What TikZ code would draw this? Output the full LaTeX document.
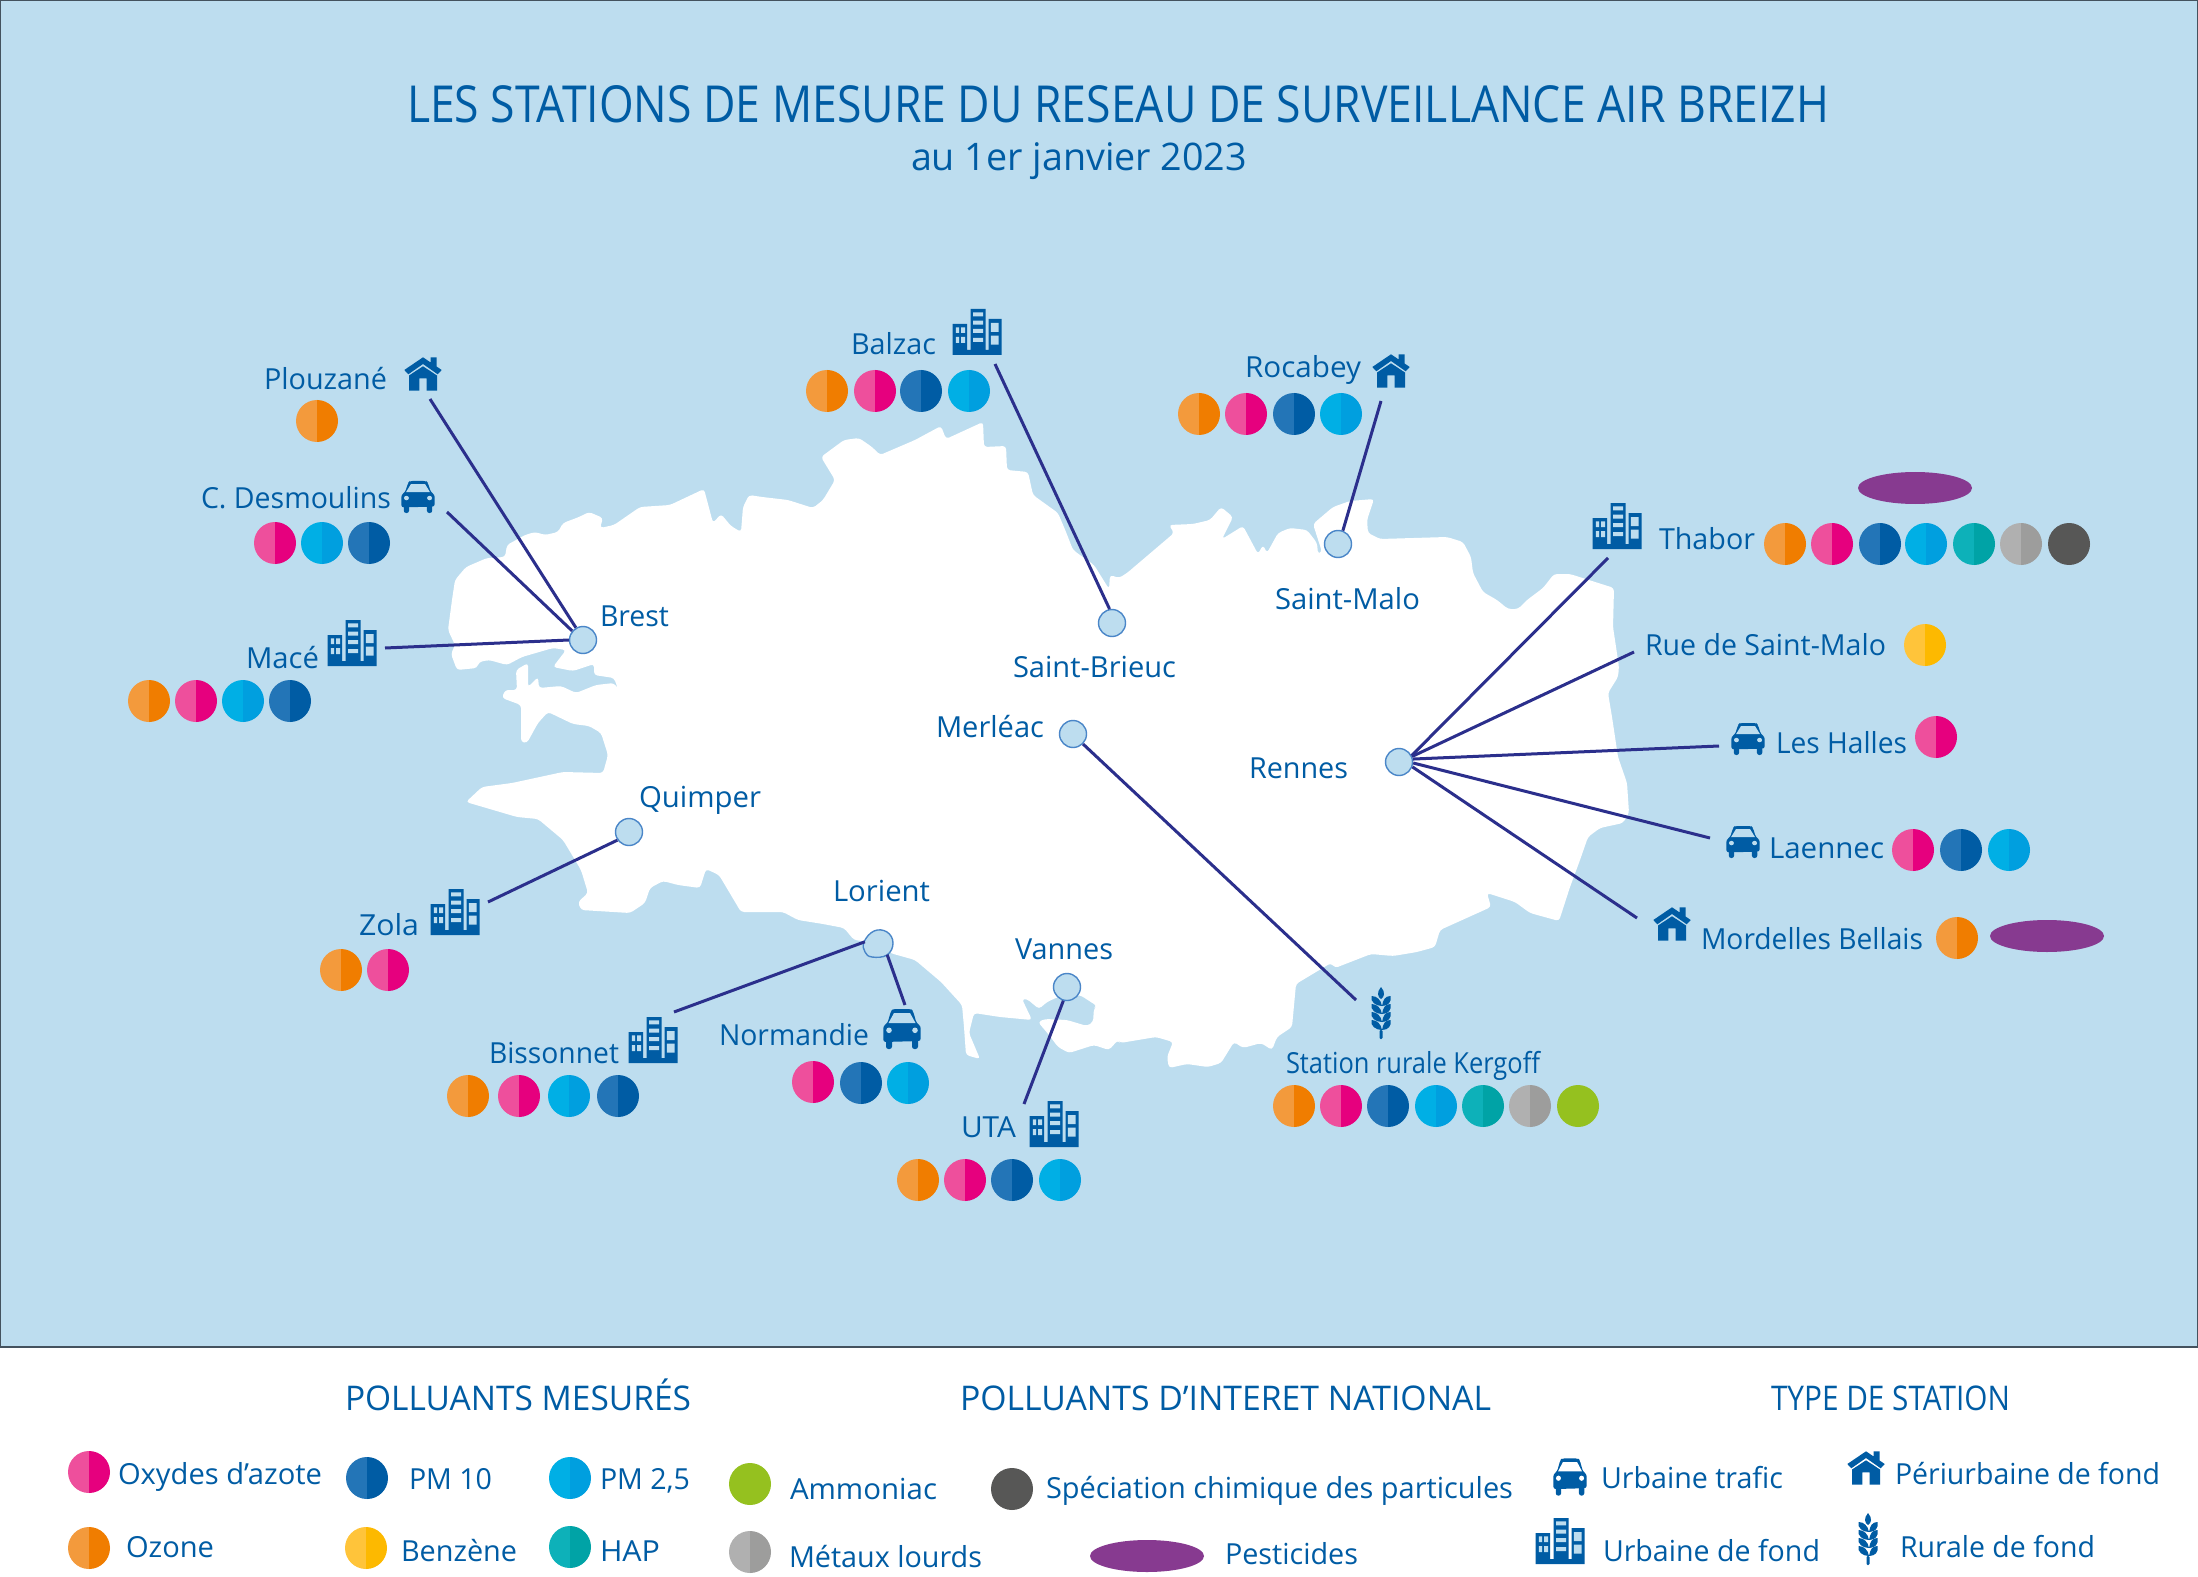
\documentclass[tikz,border=0pt]{standalone}
\usepackage{graphicx}
\usepackage{fontspec}
\setmainfont{Open Sans}
\definecolor{sea}{HTML}{BDDDEF}
\definecolor{ink}{HTML}{005CA4}
\definecolor{wire}{HTML}{2B2F8C}
\definecolor{ringc}{HTML}{4A86C8}
\definecolor{frame}{HTML}{44525E}
\definecolor{oA}{HTML}{F39A3C}\definecolor{oB}{HTML}{F07D00}
\definecolor{nA}{HTML}{EE4F9C}\definecolor{nB}{HTML}{E6007E}
\definecolor{dA}{HTML}{2375B7}\definecolor{dB}{HTML}{005CA4}
\definecolor{lA}{HTML}{00AFE5}\definecolor{lB}{HTML}{009FDF}
\definecolor{tA}{HTML}{0DB1B9}\definecolor{tB}{HTML}{00A3A6}
\definecolor{gA}{HTML}{B0B0B0}\definecolor{gB}{HTML}{9D9D9C}
\definecolor{yA}{HTML}{FFC43A}\definecolor{yB}{HTML}{FDB900}
\definecolor{vert}{HTML}{95C11F}
\definecolor{anth}{HTML}{575756}
\definecolor{viol}{HTML}{873A90}
\newlength{\fitlen}
\newcommand{\fitw}[2]{\settowidth{\fitlen}{#2}\pgfmathsetmacro{\fitr}{#1*0.5/\fitlen}\scalebox{\fitr}[1]{#2}}
% name, left x, right x, baseline y, text
\newcommand{\lab}[5]{\node[txt,anchor=base west,xshift=-0.5pt] (#1) at (#2,#4) {\fitw{(#3-#2+2)}{#5}};}
\newcommand{\hdg}[5]{\node[txt,font=\fontsize{17}{19}\selectfont,anchor=base west,xshift=-1pt] (#1) at (#2,#4) {\fitw{(#3-#2+4)}{#5}};}
\tikzset{
 x=0.5pt,y=-0.5pt,
 txt/.style={inner sep=0pt,outer sep=0pt,text=ink,font=\fontsize{14.5}{16}\selectfont},
 stn/.style={circle,draw=ringc,line width=0.7pt,fill=sea,minimum size=13.5pt,inner sep=0pt},
 lnk/.style={draw=wire,line width=1.5pt},
 pics/duo/.style 2 args={code={
   \fill[#1] (0,21) arc[start angle=90,end angle=270,radius=21] -- cycle;
   \fill[#2] (0,-21) arc[start angle=-90,end angle=90,radius=21] -- cycle;}},
 pics/ozo/.style={code={\pic {duo={oA}{oB}};}},
 pics/nox/.style={code={\pic {duo={nA}{nB}};}},
 pics/pmd/.style={code={\pic {duo={dA}{dB}};}},
 pics/pml/.style={code={\pic {duo={lA}{lB}};}},
 pics/hap/.style={code={\pic {duo={tA}{tB}};}},
 pics/met/.style={code={\pic {duo={gA}{gB}};}},
 pics/ben/.style={code={\pic {duo={yA}{yB}};}},
 pics/nh/.style={code={\fill[vert] (0,0) circle[radius=21];}},
 pics/spc/.style={code={\fill[anth] (0,0) circle[radius=21];}},
 pics/pest/.style={code={\fill[viol] (0,0) ellipse[x radius=57,y radius=16];}},
 pics/bld/.style={code={
   \fill[ink] (-24.5,-8) rectangle (-10,23) (-6.5,-23) rectangle (8.5,23) (11.5,-13) rectangle (24.5,23) (-24.5,18) rectangle (24.5,23);
   \fill[#1] (-21.2,-4.7) rectangle (-17.8,1) (-15.8,-4.7) rectangle (-11.8,1) (-21.2,5) rectangle (-17.8,11) (-15.8,5) rectangle (-11.8,11)
     (-3.8,-19.7) rectangle (6.2,-15.7) (-3.8,-11.3) rectangle (6.2,-7.3) (-3.8,-3) rectangle (6.2,1) (-3.8,6) rectangle (6.2,10)
     (13.8,-9) rectangle (21.5,0) (13.8,3.7) rectangle (21.5,12.7);}},
 pics/car/.style={code={
   \fill[ink,rounded corners=1.2pt] (-18.7,13) -- (-18.7,-3) -- (-14.5,-6) -- (-11,-18) -- (-9,-20) -- (9,-20) -- (11,-18) -- (14.5,-6) -- (18.7,-3) -- (18.7,12) -- cycle;
   \fill[ink,rounded corners=1.2pt] (-16,10) rectangle (-10,20) (10,10) rectangle (16,20);
   \fill[#1] (-13.5,-6) -- (-8,-16) -- (8,-16) -- (13.5,-6) -- cycle;
   \fill[#1] (-13,1.3) circle[radius=2.8] (13,1.3) circle[radius=2.8];}},
 pics/hse/.style={code={
   \fill[ink] (-18.7,-4) -- (0,-16.7) -- (7.7,-11.5) -- (7.7,-16.7) -- (13.7,-16.7) -- (13.7,-7.4) -- (18.7,-4) -- (14.7,0.3) -- (0,-10) -- (-14.7,0.3) -- cycle;
   \fill[ink] (-14,1.5) -- (0,-7.7) -- (14,1.5) -- (14,16.7) -- (3.7,16.7) -- (3.7,4.3) -- (-3.7,4.3) -- (-3.7,16.7) -- (-14,16.7) -- cycle;}},
 pics/whe/.style={code={
   \fill[ink] (0,-26) .. controls (-4.5,-21) and (-3.5,-16) .. (0,-14) .. controls (3.5,-16) and (4.5,-21) .. (0,-26) -- cycle;
   \foreach \yy in {-12,-4,4,12}{
     \fill[ink] (1,\yy+5) .. controls (-5,\yy+5) and (-11,\yy+1) .. (-9.5,\yy-5) .. controls (-4,\yy-5) and (0,\yy-1) .. (1,\yy+5) -- cycle;
     \fill[ink] (1,\yy+5) .. controls (7,\yy+5) and (11,\yy+1) .. (9.5,\yy-5) .. controls (4,\yy-5) and (2,\yy-1) .. (1,\yy+5) -- cycle;}
   \fill[ink,rounded corners=0.6pt] (-1.5,17) rectangle (1.5,26);}},
}
\begin{document}
\begin{tikzpicture}
\useasboundingbox (0,0) rectangle (2198,1577);
\fill[white] (0,0) rectangle (2198,1577);
\fill[sea] (0,0) rectangle (2198,1347);
\draw[frame,line width=0.6pt] (0.5,0.5) rectangle (2197.5,1347);
% land
\fill[white,rounded corners=1.6pt] (448,630) -- (452,600) -- (455,580) -- (466,567) -- (487,558) -- (505,557) -- (507,545) -- (525,535) -- (535,532) -- (545,535) -- (558,532) -- (563,523) -- (579,517) -- (589,512) -- (603,518) -- (600,528) -- (614,525) -- (640,507) -- (670,505) -- (704,489) -- (713,523) -- (721,514) -- (731,526) -- (741,532) -- (743,507) -- (749,495) -- (762,497) -- (788,500) -- (813,508) -- (823,500) -- (835,480) -- (821,457) -- (844,440) -- (859,438) -- (872,447) -- (880,455) -- (915,440) -- (941,426) -- (946,439) -- (983,422) -- (984,447) -- (1006,446) -- (1007,470) -- (1028,472) -- (1033,495) -- (1058,513) -- (1066,532) -- (1073,550) -- (1094,565) -- (1109,589) -- (1110,575) -- (1119,578) -- (1127,573) -- (1174,533) -- (1169,525) -- (1193,524) -- (1210,520) -- (1221,507) -- (1233,517) -- (1222,539) -- (1243,526) -- (1258,554) -- (1263,545) -- (1267,553) -- (1278,533) -- (1290,528) -- (1307,530) -- (1317,543) -- (1318,554) -- (1322,552) -- (1313,524) -- (1333,507) -- (1350,501) -- (1374,499) -- (1367,520) -- (1368,533) -- (1380,539) -- (1447,537) -- (1463,542) -- (1471,557) -- (1473,573) -- (1483,592) -- (1497,600) -- (1508,609) -- (1518,609) -- (1527,600) -- (1543,588) -- (1554,574) -- (1570,574) -- (1614,588) -- (1613,627) -- (1619,667) -- (1618,677) -- (1608,693) -- (1612,717) -- (1618,757) -- (1627,783) -- (1629,813) -- (1623,823) -- (1600,828) -- (1588,837) -- (1580,860) -- (1570,887) -- (1559,921) -- (1530,913) -- (1515,902) -- (1487,893) -- (1491,907) -- (1440,930) -- (1435,947) -- (1417,952) -- (1393,956) -- (1371,954) -- (1335,968) -- (1331,963) -- (1296,984) -- (1292,1027) -- (1277,1037) -- (1272,1050) -- (1261,1043) -- (1243,1048) -- (1234,1042) -- (1221,1063) -- (1208,1067) -- (1187,1064) -- (1169,1068) -- (1167,1057) -- (1173,1042) -- (1156,1037) -- (1120,1043) -- (1118,1040) -- (1109,1050) -- (1094,1045) -- (1069,1053) -- (1058,1047) -- (1049,1035) -- (1038,1022) -- (1045,1019) -- (1067,1020) -- (1087,1026) -- (1093,1022) -- (1094,1008) -- (1097,1006) -- (1080,995) -- (1058,997) -- (1047,1002) -- (1039,1009) -- (1027,999) -- (1022,999) -- (1032,1020) -- (1000,1017) -- (974,1013) -- (969,1033) -- (980,1059) -- (966,1055) -- (964,1027) -- (962,1005) -- (941,982) -- (915,960) -- (890,953) -- (880,943) -- (854,940) -- (844,928) -- (823,924) -- (798,920) -- (783,912) -- (741,912) -- (719,875) -- (706,869) -- (700,888) -- (678,885) -- (663,881) -- (650,888) -- (645,903) -- (630,913) -- (581,910) -- (578,902) -- (588,893) -- (581,870) -- (563,840) -- (538,819) -- (517,817) -- (466,802) -- (482,787) -- (512,783) -- (563,772) -- (603,773) -- (608,755) -- (601,733) -- (589,726) -- (573,724) -- (548,712) -- (538,723) -- (527,743) -- (521,742) -- (521,705) -- (502,698) -- (505,690) -- (517,690) -- (516,670) -- (528,663) -- (528,687) -- (538,677) -- (539,688) -- (561,686) -- (576,693) -- (596,685) -- (614,683) -- (618,689) -- (614,678) -- (594,675) -- (594,664) -- (573,671) -- (553,667) -- (566,650) -- (553,648) -- (522,657) -- (507,665) -- (489,660) -- (479,662) -- (477,668) -- (457,670) -- (451,654) -- (455,645) -- cycle;
% stations
\node[stn] (brest) at (583,640) {};
\node[stn] (stbrieuc) at (1112,623) {};
\node[stn] (merleac) at (1073,734) {};
\node[stn] (quimper) at (629,832) {};
\node[stn] (rennes) at (1399,762) {};
\node[stn] (stmalo) at (1338,544) {};
\node[stn,draw=none,fill=none] (lorient) at (879,943) {};
\node[stn] (vannes) at (1067,987) {};
\draw[ringc,line width=0.7pt,fill=sea] plot[smooth cycle,tension=0.7] coordinates {(864,942) (874,931) (887,932) (893,943) (887,955) (872,957) (865,952)};
% free ends
\coordinate (e1) at (430,399);
\coordinate (e2) at (447,512);
\coordinate (e3) at (385,648);
\coordinate (e4) at (995,364);
\coordinate (e5) at (1381,401);
\coordinate (e6) at (1608,558);
\coordinate (e7) at (1634,652);
\coordinate (e8) at (1719,746);
\coordinate (e9) at (1710,838);
\coordinate (e10) at (1637,918);
\coordinate (e11) at (1356,1000);
\coordinate (e12) at (488,902);
\coordinate (e13) at (674,1012);
\coordinate (e14) at (905,1005);
\coordinate (e15) at (1024,1104);
% connectors
\draw[lnk] (brest.120) -- (e1);
\draw[lnk] (brest.140) -- (e2);
\draw[lnk] (brest.180) -- (e3);
\draw[lnk] (stbrieuc.100) -- (e4);
\draw[lnk] (stmalo.70) -- (e5);
\draw[lnk] (rennes.27) -- (e6);
\draw[lnk] (rennes.23) -- (e7);
\draw[lnk] (rennes.12) -- (e8);
\draw[lnk] (rennes.-4) -- (e9);
\draw[lnk] (rennes.-20) -- (e10);
\draw[lnk] (merleac.-45) -- (e11);
\draw[lnk] (quimper.215) -- (e12);
\draw[lnk] (lorient.175) -- (e13);
\draw[lnk] (lorient.-55) -- (e14);
\draw[lnk] (vannes.-105) -- (e15);
% icons
\pic at (423,374) {hse};
\pic[xscale=.89,yscale=.8] at (418,497) {car=sea};
\pic at (352,643) {bld=sea};
\pic at (977,332) {bld=sea};
\pic at (1391,371) {hse};
\pic at (1617,526) {bld=sea};
\pic[xscale=.89,yscale=.8] at (1748,739) {car=sea};
\pic[xscale=.89,yscale=.8] at (1743,842) {car=sea};
\pic at (1672,924) {hse};
\pic at (1381,1013) {whe};
\pic at (455,912) {bld=sea};
\pic at (653,1040) {bld=sea};
\pic at (902,1029) {car=sea};
\pic at (1054,1124) {bld=sea};
% dots
\pic at (317,421) {ozo};
\pic at (275,543) {nox}; \pic at (322,543) {pml}; \pic at (369,543) {pmd};
\pic at (149,701) {ozo}; \pic at (196,701) {nox}; \pic at (243,701) {pml}; \pic at (290,701) {pmd};
\pic at (827,391) {ozo}; \pic at (875,391) {nox}; \pic at (921,391) {pmd}; \pic at (969,391) {pml};
\pic at (1199,414) {ozo}; \pic at (1246,414) {nox}; \pic at (1294,414) {pmd}; \pic at (1341,414) {pml};
\pic at (1785,544) {ozo}; \pic at (1832,544) {nox}; \pic at (1880,544) {pmd}; \pic at (1926,544) {pml}; \pic at (1974,544) {hap}; \pic at (2021,544) {met}; \pic at (2069,544) {spc};
\pic at (1915,488) {pest};
\pic at (1925,645) {ben};
\pic at (1936,737) {nox};
\pic at (1913,850) {nox}; \pic at (1961,850) {pmd}; \pic at (2009,850) {pml};
\pic at (1957,938) {ozo}; \pic at (2047,936) {pest};
\pic at (341,970) {ozo}; \pic at (388,970) {nox};
\pic at (468,1096) {ozo}; \pic at (519,1096) {nox}; \pic at (569,1096) {pml}; \pic at (618,1096) {pmd};
\pic at (813,1082) {nox}; \pic at (861,1083) {pmd}; \pic at (908,1083) {pml};
\pic at (918,1180) {ozo}; \pic at (965,1180) {nox}; \pic at (1012,1180) {pmd}; \pic at (1060,1180) {pml};
\pic at (1294,1106) {ozo}; \pic at (1341,1106) {nox}; \pic at (1388,1106) {pmd}; \pic at (1436,1106) {pml}; \pic at (1483,1106) {hap}; \pic at (1530,1106) {met}; \pic at (1578,1106) {nh};
% labels
\node[txt,font=\fontsize{25.5}{28}\selectfont,anchor=base west] (title) at (407,123) {\fitw{1422}{LES STATIONS DE MESURE DU RESEAU DE SURVEILLANCE AIR BREIZH}};
\node[txt,font=\fontsize{19}{21}\selectfont,anchor=base west] (sub) at (911,171) {\fitw{336}{au 1er janvier 2023}};
\lab{lPlou}{265}{386}{390}{Plouzané}
\lab{lDesm}{202}{390}{509}{C. Desmoulins}
\lab{lMace}{247}{318}{668}{Macé}
\lab{lBrest}{601}{668}{626}{Brest}
\lab{lBalz}{852}{935}{355}{Balzac}
\lab{lRoca}{1246}{1360}{378}{Rocabey}
\lab{lMalo}{1276}{1419}{609}{Saint-Malo}
\lab{lBrieuc}{1014}{1175}{677}{Saint-Brieuc}
\lab{lMerl}{937}{1043}{737}{Merléac}
\lab{lRenn}{1250}{1347}{778}{Rennes}
\lab{lQuim}{640}{760}{807}{Quimper}
\lab{lZola}{360}{418}{935}{Zola}
\lab{lLor}{834}{929}{901}{Lorient}
\lab{lVan}{1016}{1112}{959}{Vannes}
\lab{lNorm}{720}{868}{1045}{Normandie}
\lab{lBiss}{490}{618}{1063}{Bissonnet}
\lab{lUTA}{962}{1015}{1137}{UTA}
\lab{lKerg}{1287}{1539}{1073}{Station rurale Kergoff}
\lab{lThab}{1660}{1754}{549}{Thabor}
\lab{lRue}{1646}{1885}{655}{Rue de Saint-Malo}
\lab{lHall}{1777}{1906}{753}{Les Halles}
\lab{lLaen}{1770}{1883}{858}{Laennec}
\lab{lMord}{1702}{1922}{949}{Mordelles Bellais}
% legend
\hdg{h1}{347}{689}{1410}{POLLUANTS MESURÉS}
\hdg{h2}{962}{1489}{1410}{POLLUANTS D’INTERET NATIONAL}
\hdg{h3}{1773}{2008}{1410}{TYPE DE STATION}
\pic[yscale=.89] at (89,1472) {nox}; \lab{t1}{119}{321}{1484}{Oxydes d’azote}
\pic at (89,1548) {ozo}; \lab{t2}{127}{213}{1557}{Ozone}
\pic at (367,1478) {pmd}; \lab{t3}{410}{491}{1489}{PM 10}
\pic at (570,1478) {pml}; \lab{t4}{601}{689}{1489}{PM 2,5}
\pic at (366,1548) {ben}; \lab{t5}{402}{516}{1561}{Benzène}
\pic at (570,1547) {hap}; \lab{t6}{601}{659}{1561}{HAP}
\pic at (750,1484) {nh}; \lab{t7}{791}{936}{1499}{Ammoniac}
\pic at (750,1552) {met}; \lab{t8}{790}{981}{1567}{Métaux lourds}
\pic at (1012,1489) {spc}; \lab{t9}{1047}{1512}{1498}{Spéciation chimique des particules}
\pic at (1147,1556) {pest}; \lab{t10}{1226}{1357}{1564}{Pesticides}
\pic[xscale=.89,yscale=.93] at (1570,1477) {car=white}; \lab{t11}{1602}{1782}{1488}{Urbaine trafic}
\pic at (1560,1541) {bld=sea}; \lab{t12}{1604}{1819}{1561}{Urbaine de fond}
\pic at (1866,1468) {hse}; \lab{t13}{1896}{2159}{1484}{Périurbaine de fond}
\pic at (1868,1539) {whe}; \lab{t14}{1901}{2094}{1557}{Rurale de fond}
\end{tikzpicture}
\end{document}
